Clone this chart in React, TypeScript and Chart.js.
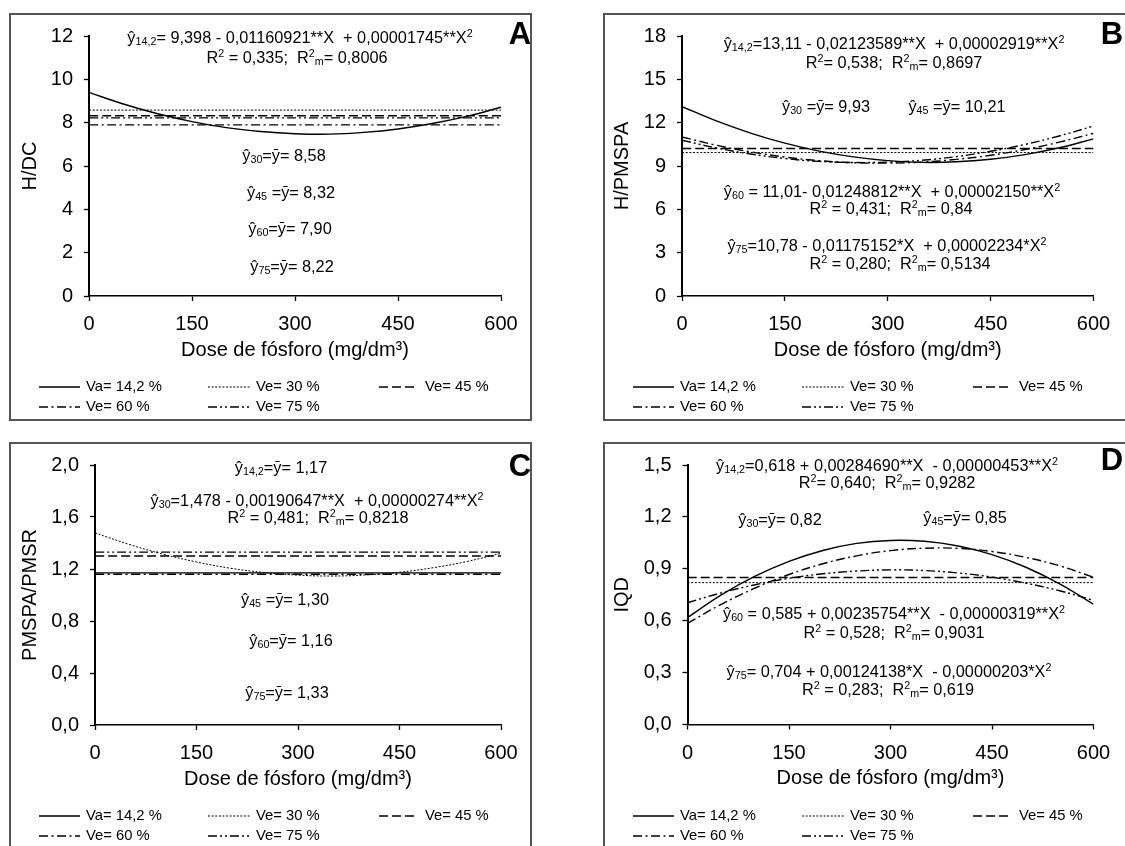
import React, { useEffect, useRef } from "react";
import { Chart, registerables } from "chart.js";
Chart.register(...registerables);

const FONT = '"Liberation Sans", Arial, sans-serif';
Chart.defaults.font.family = FONT;

// ---------- shared data ----------
const doses = [0, 50, 100, 150, 200, 250, 300, 350, 400, 450, 500, 550, 600];
const xTicks = [0, 150, 300, 450, 600];
const seriesLabels = ["Va= 14,2 %", "Ve= 30 %", "Ve= 45 %", "Ve= 60 %", "Ve= 75 %"];

// ---------- panel A : H/DC ----------
const hdcVa = [9.40, 8.86, 8.41, 8.05, 7.77, 7.59, 7.49, 7.47, 7.55, 7.71, 7.96, 8.29, 8.71];
const hdcMean30 = 8.58;
const hdcMean45 = 8.32;
const hdcMean60 = 7.90;
const hdcMean75 = 8.22;
const yTicksA = [0, 2, 4, 6, 8, 10, 12];

// ---------- panel B : H/PMSPA ----------
const hpmspaVa = [13.11, 12.12, 11.28, 10.58, 10.03, 9.63, 9.37, 9.25, 9.29, 9.47, 9.79, 10.26, 10.88];
const hpmspaMean30 = 9.93;
const hpmspaMean45 = 10.21;
const hpmspa60 = [11.01, 10.44, 9.98, 9.62, 9.37, 9.23, 9.20, 9.27, 9.46, 9.74, 10.14, 10.65, 11.26];
const hpmspa75 = [10.78, 10.25, 9.83, 9.52, 9.32, 9.24, 9.27, 9.40, 9.65, 10.02, 10.49, 11.08, 11.77];
const yTicksB = [0, 3, 6, 9, 12, 15, 18];

// ---------- panel C : PMSPA/PMSR ----------
const ratioMeanVa = 1.17;
const ratio30 = [1.478, 1.390, 1.315, 1.254, 1.206, 1.173, 1.153, 1.146, 1.154, 1.175, 1.210, 1.258, 1.321];
const ratioMean45 = 1.30;
const ratioMean60 = 1.16;
const ratioMean75 = 1.33;
const yTicksC = [0, 0.4, 0.8, 1.2, 1.6, 2.0];

// ---------- panel D : IQD ----------
const iqdVa = [0.618, 0.749, 0.857, 0.943, 1.006, 1.047, 1.064, 1.059, 1.032, 0.982, 0.909, 0.813, 0.695];
const iqdMean30 = 0.82;
const iqdMean45 = 0.85;
const iqd60 = [0.585, 0.695, 0.789, 0.867, 0.929, 0.975, 1.005, 1.019, 1.018, 1.000, 0.966, 0.917, 0.851];
const iqd75 = [0.704, 0.761, 0.808, 0.845, 0.871, 0.887, 0.894, 0.890, 0.876, 0.852, 0.817, 0.773, 0.718];
const yTicksD = [0, 0.3, 0.6, 0.9, 1.2, 1.5];

// ---------- styles ----------
const lineDashes: number[][] = [[], [2, 1.6], [9, 4], [9, 3.5, 2, 3.5], [9, 3, 2, 3, 2, 3]];
const lineWidths = [1.4, 1, 1.4, 1.4, 1.4];
const AXIS_FONT = 20;
const ANN_FONT = 16.3;
const LEG_FONT = 14.8;

type Ann = { t: string; x: number; y: number };
type PanelCfg = {
  letter: string;
  left: number; top: number; w: number; h: number;
  chartLeft: number; chartRight: number; chartTop: number; chartBottom: number;
  yTitle: string; yTitlePad: number;
  yTicks: number[]; decimals: number;
  series: (number[] | number)[];
  anns: Ann[];
  letterX: number; letterY: number;
};

const panels: PanelCfg[] = [
  {
    letter: "A", left: 9, top: 13, w: 523, h: 408,
    chartLeft: 80, chartRight: 492, chartTop: 22, chartBottom: 283,
    yTitle: "H/DC", yTitlePad: 9, yTicks: yTicksA, decimals: 0,
    series: [hdcVa, hdcMean30, hdcMean45, hdcMean60, hdcMean75],
    anns: [
      { t: "ŷ_{14,2}= 9,398 - 0,01160921**X  + 0,00001745**X^{2}", x: 291, y: 24 },
      { t: "R^{2} = 0,335;  R^{2}_{m}= 0,8006", x: 288, y: 44 },
      { t: "ŷ_{30}=ȳ= 8,58", x: 275, y: 142 },
      { t: "ŷ_{45} =ȳ= 8,32", x: 282, y: 179 },
      { t: "ŷ_{60}=ȳ= 7,90", x: 281, y: 215 },
      { t: "ŷ_{75}=ȳ= 8,22", x: 283, y: 253 },
    ],
    letterX: 511, letterY: 22,
  },
  {
    letter: "B", left: 603, top: 13, w: 530, h: 408,
    chartLeft: 79, chartRight: 490.5, chartTop: 22, chartBottom: 283,
    yTitle: "H/PMSPA", yTitlePad: 7, yTicks: yTicksB, decimals: 0,
    series: [hpmspaVa, hpmspaMean30, hpmspaMean45, hpmspa60, hpmspa75],
    anns: [
      { t: "ŷ_{14,2}=13,11 - 0,02123589**X  + 0,00002919**X^{2}", x: 291, y: 30 },
      { t: "R^{2}= 0,538;  R^{2}_{m}= 0,8697", x: 291, y: 49 },
      { t: "ŷ_{30} =ȳ= 9,93", x: 223, y: 93 },
      { t: "ŷ_{45} =ȳ= 10,21", x: 354, y: 93 },
      { t: "ŷ_{60} = 11,01- 0,01248812**X  + 0,00002150**X^{2}", x: 289, y: 178 },
      { t: "R^{2} = 0,431;  R^{2}_{m}= 0,84", x: 288, y: 195 },
      { t: "ŷ_{75}=10,78 - 0,01175152*X  + 0,00002234*X^{2}", x: 284, y: 232 },
      { t: "R^{2} = 0,280;  R^{2}_{m}= 0,5134", x: 297, y: 250 },
    ],
    letterX: 509, letterY: 22,
  },
  {
    letter: "C", left: 9, top: 442, w: 523, h: 420,
    chartLeft: 86, chartRight: 492, chartTop: 22, chartBottom: 283,
    yTitle: "PMSPA/PMSR", yTitlePad: 9, yTicks: yTicksC, decimals: 1,
    series: [ratioMeanVa, ratio30, ratioMean45, ratioMean60, ratioMean75],
    anns: [
      { t: "ŷ_{14,2}=ȳ= 1,17", x: 272, y: 25 },
      { t: "ŷ_{30}=1,478 - 0,00190647**X  + 0,00000274**X^{2}", x: 308, y: 58 },
      { t: "R^{2} = 0,481;  R^{2}_{m}= 0,8218", x: 309, y: 75 },
      { t: "ŷ_{45} =ȳ= 1,30", x: 276, y: 157 },
      { t: "ŷ_{60}=ȳ= 1,16", x: 282, y: 198 },
      { t: "ŷ_{75}=ȳ= 1,33", x: 278, y: 250 },
    ],
    letterX: 511, letterY: 25,
  },
  {
    letter: "D", left: 603, top: 442, w: 530, h: 420,
    chartLeft: 84.5, chartRight: 490.5, chartTop: 21.5, chartBottom: 282.5,
    yTitle: "IQD", yTitlePad: 7, yTicks: yTicksD, decimals: 1,
    series: [iqdVa, iqdMean30, iqdMean45, iqd60, iqd75],
    anns: [
      { t: "ŷ_{14,2}=0,618 + 0,00284690**X  - 0,00000453**X^{2}", x: 284, y: 23 },
      { t: "R^{2}= 0,640;  R^{2}_{m}= 0,9282", x: 284, y: 40 },
      { t: "ŷ_{30}=ȳ= 0,82", x: 177, y: 77 },
      { t: "ŷ_{45}=ȳ= 0,85", x: 362, y: 75 },
      { t: "ŷ_{60} = 0,585 + 0,00235754**X  - 0,00000319**X^{2}", x: 291, y: 171 },
      { t: "R^{2} = 0,528;  R^{2}_{m}= 0,9031", x: 291, y: 190 },
      { t: "ŷ_{75}= 0,704 + 0,00124138*X  - 0,00000203*X^{2}", x: 286, y: 229 },
      { t: "R^{2} = 0,283;  R^{2}_{m}= 0,619", x: 285, y: 247 },
    ],
    letterX: 509, letterY: 19,
  },
];

// legend layout (relative to panel)
const legCols = [{ x0: 30, x1: 71, tx: 77 }, { x0: 199, x1: 242, tx: 247 }, { x0: 370, x1: 409, tx: 416 }];
const legRows = [374, 394];

function parseRich(s: string) {
  const segs: { t: string; k: number }[] = [];
  let buf = "";
  let i = 0;
  while (i < s.length) {
    if ((s[i] === "_" || s[i] === "^") && s[i + 1] === "{") {
      if (buf) { segs.push({ t: buf, k: 0 }); buf = ""; }
      const end = s.indexOf("}", i);
      segs.push({ t: s.slice(i + 2, end), k: s[i] === "_" ? 1 : 2 });
      i = end + 1;
    } else {
      buf += s[i];
      i++;
    }
  }
  if (buf) segs.push({ t: buf, k: 0 });
  return segs;
}

function drawRich(ctx: CanvasRenderingContext2D, s: string, cx: number, cy: number, size: number) {
  const segs = parseRich(s);
  const small = size * 0.66;
  const fontFor = (k: number) => `${k === 0 ? size : small}px ${FONT}`;
  let w = 0;
  for (const sg of segs) { ctx.font = fontFor(sg.k); w += ctx.measureText(sg.t).width; }
  let x = cx - w / 2;
  const base = cy + size * 0.36;
  ctx.textAlign = "left";
  ctx.textBaseline = "alphabetic";
  ctx.fillStyle = "#000";
  for (const sg of segs) {
    ctx.font = fontFor(sg.k);
    const y = sg.k === 1 ? base + size * 0.16 : sg.k === 2 ? base - size * 0.34 : base;
    ctx.fillText(sg.t, x, y);
    x += ctx.measureText(sg.t).width;
  }
}

function fmt(v: number, d: number) {
  return v.toFixed(d).replace(".", ",");
}

function Panel({ cfg }: { cfg: PanelCfg }) {
  const ref = useRef<HTMLCanvasElement>(null);
  useEffect(() => {
    const xH = 70;
    const datasets = cfg.series.map((s, i) => {
      const data = Array.isArray(s)
        ? doses.map((x, j) => ({ x, y: s[j] }))
        : [{ x: doses[0], y: s }, { x: doses[doses.length - 1], y: s }];
      return {
        label: seriesLabels[i],
        data,
        borderColor: "#000",
        borderWidth: lineWidths[i],
        borderDash: lineDashes[i],
        pointRadius: 0,
        tension: 0.4,
        fill: false,
      };
    });
    const decor = {
      id: "decor",
      afterDraw(chart: any) {
        const ctx: CanvasRenderingContext2D = chart.ctx;
        ctx.save();
        ctx.strokeStyle = "#555";
        ctx.lineWidth = 2;
        ctx.setLineDash([]);
        ctx.strokeRect(1, 1, cfg.w - 2, cfg.h - 2);
        ctx.fillStyle = "#000";
        ctx.font = `bold 31px ${FONT}`;
        ctx.textAlign = "center";
        ctx.textBaseline = "middle";
        ctx.fillText(cfg.letter, cfg.letterX, cfg.letterY);
        for (const a of cfg.anns) drawRich(ctx, a.t, a.x, a.y, ANN_FONT);
        seriesLabels.forEach((lab, i) => {
          const c = legCols[i % 3];
          const y = legRows[Math.floor(i / 3)];
          ctx.strokeStyle = "#000";
          ctx.lineWidth = lineWidths[i];
          ctx.setLineDash(lineDashes[i]);
          ctx.beginPath();
          ctx.moveTo(c.x0, y);
          ctx.lineTo(c.x1, y);
          ctx.stroke();
          ctx.setLineDash([]);
          ctx.font = `${LEG_FONT}px ${FONT}`;
          ctx.textAlign = "left";
          ctx.textBaseline = "middle";
          ctx.fillStyle = "#000";
          ctx.fillText(lab, c.tx, y);
        });
        ctx.restore();
      },
    };
    const chart = new Chart(ref.current as HTMLCanvasElement, {
      type: "line",
      data: { datasets: datasets as any },
      plugins: [decor],
      options: {
        responsive: false,
        animation: false,
        devicePixelRatio: 1,
        layout: {
          padding: {
            left: 0,
            top: cfg.chartTop,
            right: cfg.w - cfg.chartRight,
            bottom: cfg.h - cfg.chartBottom - xH,
          },
        },
        plugins: { legend: { display: false }, tooltip: { enabled: false } },
        scales: {
          x: {
            type: "linear",
            min: xTicks[0],
            max: xTicks[xTicks.length - 1],
            afterBuildTicks: (s: any) => { s.ticks = xTicks.map((v) => ({ value: v })); },
            afterFit: (s: any) => { s.height = xH; },
            grid: { display: true, drawOnChartArea: false, drawTicks: true, tickLength: 5, color: "#000", tickWidth: 1.3 },
            border: { display: true, color: "#000", width: 1.5 },
            ticks: { padding: 11.5, color: "#000", font: { size: AXIS_FONT }, maxRotation: 0, autoSkip: false, callback: (v: any) => String(v) },
            title: { display: true, text: "Dose de fósforo (mg/dm³)", color: "#000", font: { size: AXIS_FONT }, padding: { top: 0, bottom: 4 } },
          },
          y: {
            type: "linear",
            min: cfg.yTicks[0],
            max: cfg.yTicks[cfg.yTicks.length - 1],
            afterBuildTicks: (s: any) => { s.ticks = cfg.yTicks.map((v) => ({ value: v })); },
            afterFit: (s: any) => { s.width = cfg.chartLeft; },
            grid: { display: true, drawOnChartArea: false, drawTicks: true, tickLength: 5, color: "#000", tickWidth: 1.3 },
            border: { display: true, color: "#000", width: 2 },
            ticks: { padding: 11, color: "#000", font: { size: AXIS_FONT }, autoSkip: false, callback: (v: any) => fmt(Number(v), cfg.decimals) },
            title: { display: true, text: cfg.yTitle, color: "#000", font: { size: AXIS_FONT }, padding: { top: cfg.yTitlePad, bottom: 0 } },
          },
        },
      } as any,
    });
    return () => chart.destroy();
  }, [cfg]);
  return (
    <canvas
      ref={ref}
      width={cfg.w}
      height={cfg.h}
      style={{ position: "absolute", left: cfg.left, top: cfg.top, width: cfg.w, height: cfg.h }}
    />
  );
}

export default function App() {
  return (
    <div style={{ position: "fixed", left: 0, top: 0, width: 1125, height: 846, overflow: "hidden", background: "#fff" }}>
      {panels.map((p) => (
        <Panel key={p.letter} cfg={p} />
      ))}
    </div>
  );
}
